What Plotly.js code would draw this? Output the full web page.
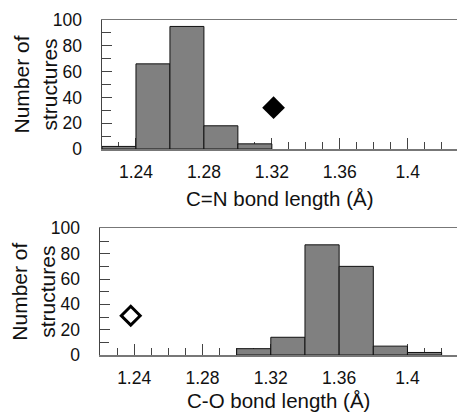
<!DOCTYPE html>
<html>
<head>
<meta charset="utf-8">
<script src="https://cdn.plot.ly/plotly-3.0.1.min.js"></script>
<style>html,body{margin:0;padding:0;background:#fff;}#chart{width:457px;height:413px;}</style>
</head>
<body>
<div id="chart"></div>
<script>
// C=N histogram (bin centres, bin width 0.02 Å)
const cnBins = [1.23, 1.25, 1.27, 1.29, 1.31];
const cnCounts = [2, 66, 95, 18, 4];
const cnMarkX = [1.321];
const cnMarkY = [32];

// C-O histogram
const coBins = [1.31, 1.33, 1.35, 1.37, 1.39, 1.41];
const coCounts = [5, 14, 87, 70, 7, 2];
const coMarkX = [1.238];
const coMarkY = [31];

const binWidth = 0.02;
const xTitleTop = 'C=N bond length (Å)';
const xTitleBottom = 'C-O bond length (Å)';
const yTitle = 'Number of<br>structures';

const FONT = 'Liberation Sans, Arial, sans-serif';
const barStyle = {color: '#808080', line: {color: '#111', width: 1}};

const traces = [
  {type: 'bar', x: cnBins, y: cnCounts, width: binWidth, marker: barStyle, xaxis: 'x', yaxis: 'y', hoverinfo: 'x+y'},
  {type: 'scatter', mode: 'markers', x: cnMarkX, y: cnMarkY, xaxis: 'x', yaxis: 'y',
   marker: {symbol: 'diamond', size: 17.5, color: '#000'}},
  {type: 'bar', x: coBins, y: coCounts, width: binWidth, marker: barStyle, xaxis: 'x2', yaxis: 'y2', hoverinfo: 'x+y'},
  {type: 'scatter', mode: 'markers', x: coMarkX, y: coMarkY, xaxis: 'x2', yaxis: 'y2',
   marker: {symbol: 'diamond-open', size: 14.5, color: '#000', line: {width: 3, color: '#000'}}}
];

function xAxis(domain, anchor) {
  return {
    domain: domain, anchor: anchor, range: [1.22, 1.429],
    tick0: 1.24, dtick: 0.04, ticks: 'inside', ticklen: 11, tickwidth: 1, tickcolor: '#444',
    minor: {ticks: 'inside', dtick: 0.01, tick0: 1.24, ticklen: 7.5, tickwidth: 1, tickcolor: '#444', showgrid: false},
    showline: true, linecolor: '#777', linewidth: 1.5, mirror: true,
    showgrid: false, zeroline: false, layer: 'below traces',
    ticklabelstandoff: 6,
    tickfont: {family: FONT, size: 17.5, color: '#111'},
    fixedrange: true
  };
}
function yAxis(domain, anchor) {
  return {
    domain: domain, anchor: anchor, range: [0, 100],
    tick0: 0, dtick: 20, ticks: 'inside', ticklen: 10, tickwidth: 1, tickcolor: '#444',
    minor: {ticks: 'inside', dtick: 10, ticklen: 9, tickwidth: 1, tickcolor: '#444', showgrid: false},
    showline: true, linecolor: '#444', linewidth: 1.5,
    showgrid: false, zeroline: false, layer: 'below traces',
    ticklabelstandoff: 15,
    tickfont: {family: FONT, size: 17.5, color: '#111'},
    title: {text: yTitle, font: {family: FONT, size: 21, color: '#111'}},
    fixedrange: true
  };
}

function xTitle(text, xr, yr, shift) {
  return {
    text: text, xref: xr + ' domain', yref: yr + ' domain', x: 0.5, y: 0,
    xanchor: 'center', yanchor: 'middle', yshift: shift, showarrow: false,
    font: {family: FONT, size: 20.5, color: '#111'}
  };
}

const layout = {
  width: 457, height: 413,
  margin: {l: 100, r: 0, t: 20, b: 58, pad: 0},
  paper_bgcolor: '#fff', plot_bgcolor: '#fff',
  showlegend: false, bargap: 0,
  xaxis: xAxis([2/357, 1], 'y'),
  yaxis: yAxis([0.6149, 1], 'x'),
  xaxis2: xAxis([0, 1], 'y2'),
  yaxis2: yAxis([0, 0.378], 'x2'),
  annotations: [xTitle(xTitleTop, 'x', 'y', -49), xTitle(xTitleBottom, 'x2', 'y2', -45)]
};

Plotly.newPlot('chart', traces, layout, {displayModeBar: false, staticPlot: true});
</script>
</body>
</html>
